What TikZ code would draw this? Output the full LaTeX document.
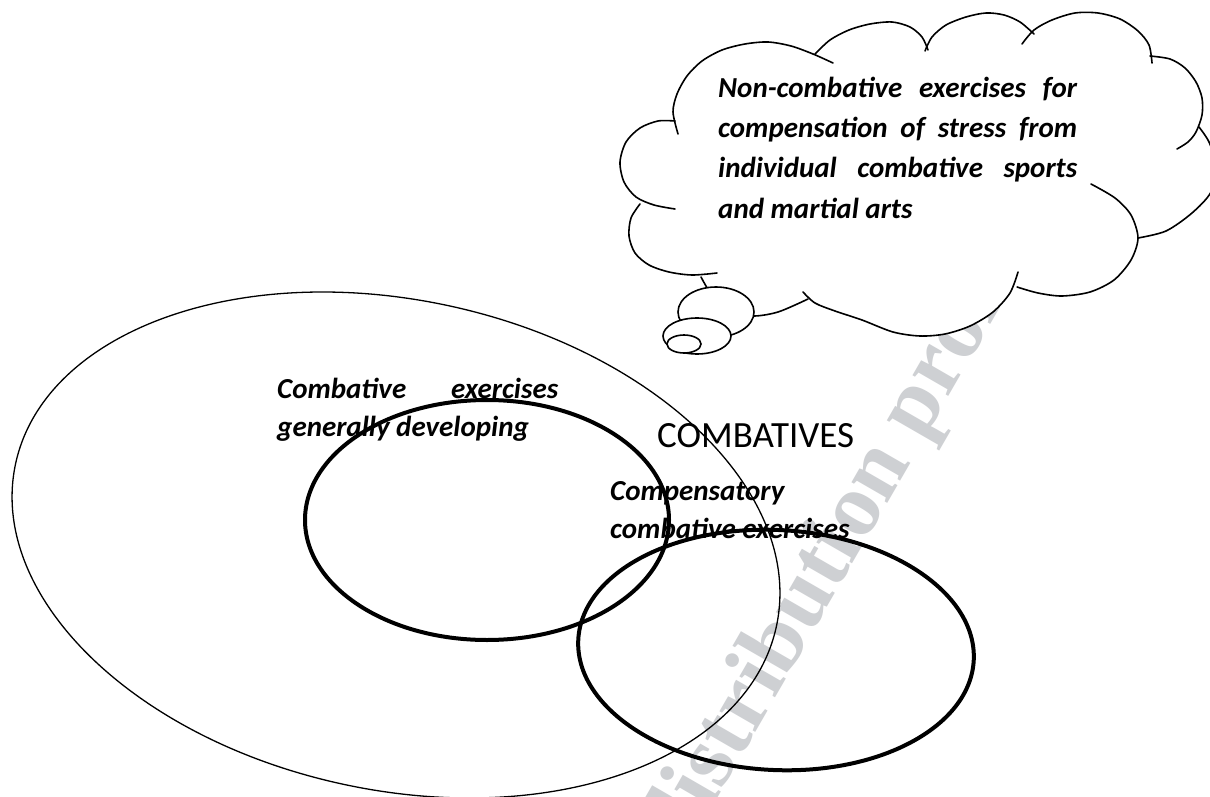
\documentclass[tikz,border=0pt]{standalone}
\usepackage{fontspec}
\setmainfont{Carlito}
\newfontfamily\wmfont{Liberation Serif}
\definecolor{wmgray}{RGB}{206,208,211}
\def\cldA{plot[smooth] coordinates {(675,121) (658,121) (640,128) (626,142) (620,162) (624,182) (636,197) (654,205) (675,209)}}
\def\cldB{plot[smooth] coordinates {(678,134) (673,112) (677,94) (687,76) (702,61) (722,50) (745,44) (768,42) (791,46) (813,54) (833,63)}}
\def\cldC{plot[smooth] coordinates {(815,54) (830,40) (849,30) (870,24) (892,22) (910,27) (922,37) (928,50)}}
\def\cldD{plot[smooth] coordinates {(925,51) (932,37) (946,25) (966,17) (986,13) (1004,15) (1020,22) (1034,34)}}
\def\cldE{plot[smooth] coordinates {(1022,44) (1034,30) (1052,20) (1075,13) (1098,13) (1120,19) (1138,31) (1149,45) (1152,63)}}
\def\cldF{plot[smooth] coordinates {(1150,56) (1170,59) (1185,68) (1196,82) (1202,98) (1202,115) (1196,132) (1188,142) (1177,149)}}
\def\cldG{plot[smooth] coordinates {(1199,127) (1209,142) (1216,165) (1211,192) (1192,213) (1166,231) (1138,238)}}
\def\cldH{plot[smooth] coordinates {(1091,184) (1115,198) (1131,215) (1138,238) (1131,260) (1114,280) (1090,292) (1062,296) (1038,293) (1017,287)}}
\def\cldI{plot[smooth] coordinates {(1018,272) (1010,293) (993,312) (970,326) (945,334) (920,336) (893,332) (862,320) (835,311) (815,303) (803,292)}}
\def\cldJ{plot[smooth] coordinates {(701,277) (712,295) (730,310) (752,316) (778,312) (808,299)}}
\def\cldK{plot[smooth] coordinates {(640,204) (631,218) (629,236) (635,253) (649,265) (669,272) (692,275) (717,273)}}
\begin{document}
\begin{tikzpicture}[x=1pt,y=-1pt,
  cloudline/.style={line width=1.6pt, line cap=round, line join=round},
  bubble/.style={draw=black, fill=white, line width=1.6pt},
  thinring/.style={line width=1.3pt},
  boldring/.style={line width=4pt},
  ctext/.style={anchor=base west, inner sep=0pt, font=\fontsize{29}{35}\selectfont\bfseries\itshape},
  bigtext/.style={anchor=base west, inner sep=0pt, font=\fontsize{37}{44}\selectfont},
  wmtext/.style={anchor=base west, inner sep=0pt, text=wmgray, font=\wmfont\bfseries\fontsize{90}{100}\selectfont}]
\useasboundingbox (0,0) rectangle (1210,797);
\clip (0,0) rectangle (1210,797);
\fill[white] (0,0) rectangle (1210,797);
% watermark
\node[wmtext, rotate=60] (wm) at (684,856) {distribution prohibited};
% cloud fill
\fill[white] (680,130) -- (830,60) -- (927,48) -- (1028,40) -- (1150,60) -- (1178,148) -- (1138,236) -- (1017,284) -- (805,296) -- (740,312) -- (700,276) -- (642,208) -- cycle;
\fill[white] \cldA; \fill[white] \cldB; \fill[white] \cldC; \fill[white] \cldD;
\fill[white] \cldE; \fill[white] \cldF; \fill[white] \cldG; \fill[white] \cldH;
\fill[white] \cldI; \fill[white] \cldJ; \fill[white] \cldK;
% cloud outline
\draw[cloudline] \cldA; \draw[cloudline] \cldB; \draw[cloudline] \cldC; \draw[cloudline] \cldD;
\draw[cloudline] \cldE; \draw[cloudline] \cldF; \draw[cloudline] \cldG; \draw[cloudline] \cldH;
\draw[cloudline] \cldI; \draw[cloudline] \cldJ; \draw[cloudline] \cldK;
% thought bubbles
\draw[bubble] (716,312) ellipse [x radius=38pt, y radius=25pt];
\draw[bubble] (697,336) ellipse [x radius=34pt, y radius=18pt];
\draw[bubble] (684,344) ellipse [x radius=17pt, y radius=9pt];
% ellipses
\draw[thinring, rotate around={-12:(396,545)}] (396,545) ellipse [x radius=389pt, y radius=245pt];
\draw[boldring] (487,520) ellipse [x radius=182pt, y radius=120pt];
\draw[boldring, rotate around={-3:(776,650)}] (776,650) ellipse [x radius=198pt, y radius=120pt];
% cloud text
\node[ctext] (c1) at (718,98) {\makebox[359pt][s]{Non-combative exercises for}};
\node[ctext] (c2) at (718,138) {\makebox[359pt][s]{compensation of stress from}};
\node[ctext] (c3) at (718,178) {\makebox[359pt][s]{individual combative sports}};
\node[ctext] (c4) at (718,218) {and martial arts};
% inner labels
\node[ctext] (g1) at (277,398) {\makebox[281pt][s]{Combative exercises}};
\node[ctext] (g2) at (277,436) {generally developing};
\node[bigtext] (cb) at (657,447) {COMBATIVES};
\node[ctext] (k1) at (610,500) {Compensatory};
\node[ctext] (k2) at (610,538) {combative exercises};
\end{tikzpicture}
\end{document}
